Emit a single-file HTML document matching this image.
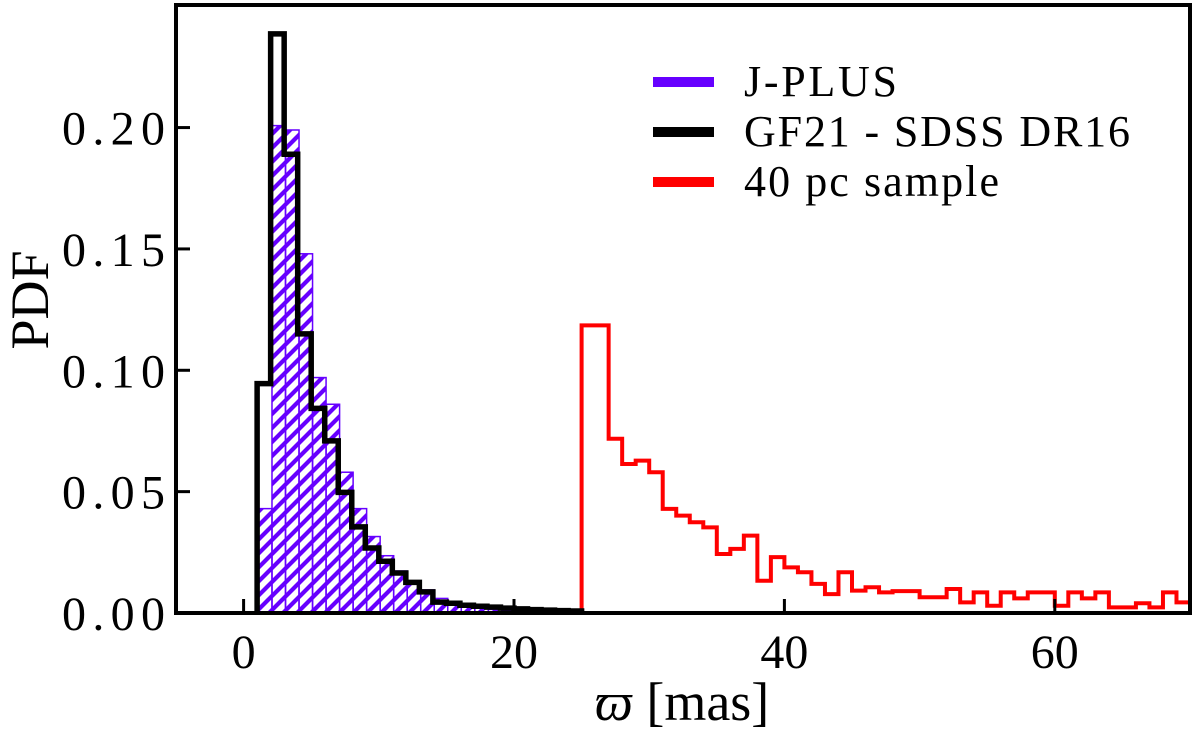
<!DOCTYPE html>
<html><head><meta charset="utf-8"><style>
html,body{margin:0;padding:0;background:#fff;}
svg{display:block;font-family:"Liberation Serif",serif;}
</style></head><body>
<svg id="chart" width="1200" height="738" viewBox="0 0 1200 738">
<defs>
<pattern id="hatch" patternUnits="userSpaceOnUse" width="14" height="14">
<path d="M-3,3 L3,-3 M0,14 L14,0 M11,17 L17,11" stroke="#6600ff" stroke-width="4.2"/>
</pattern>
<clipPath id="plotclip"><rect x="176" y="5" width="1014" height="608"/></clipPath>
</defs>
<g id="marks" clip-path="url(#plotclip)"></g>
<g id="axes"></g>
<g>
<line x1="653" y1="82" x2="714" y2="82" stroke="#6600ff" stroke-width="10"/>
<text x="744" y="96" font-size="44" textLength="153">J-PLUS</text>
<line x1="653" y1="132" x2="714" y2="132" stroke="#000" stroke-width="10"/>
<text x="744" y="146" font-size="44" textLength="386">GF21 - SDSS DR16</text>
<line x1="653" y1="182" x2="714" y2="182" stroke="#ff0000" stroke-width="10"/>
<text x="744" y="196" font-size="44" textLength="255">40 pc sample</text>
</g>
<text x="48" y="300" font-size="54" text-anchor="middle" transform="rotate(-90 48 300)">PDF</text>
<text x="682" y="720" font-size="54" text-anchor="middle"><tspan font-style="italic">ϖ</tspan> [mas]</text>
</svg>
<script>
const jplusStart = 1.1;
const jplusValues = [0.043,0.2008,0.199,0.148,0.097,0.086,0.058,0.043,0.0315,0.0236,0.0173,0.0127,0.0095,0.006,0.004,0.003,0.002,0.0015,0.001,0.0007];
const gf21Start = 1.0;
const gf21Values = [0.0945,0.2386,0.189,0.115,0.0843,0.0709,0.0497,0.0355,0.0268,0.0213,0.0165,0.0126,0.0087,0.0045,0.004,0.0032,0.0028,0.0024,0.002,0.0017,0.0014,0.0012,0.001,0.0008];
const pcStart = 25;
const pcValues = [0.1185,0.1185,0.0718,0.0614,0.0628,0.058,0.0429,0.0401,0.0374,0.0353,0.0243,0.0264,0.0319,0.0133,0.023,0.0188,0.0168,0.012,0.0078,0.0168,0.0092,0.0106,0.0085,0.009,0.009,0.0065,0.0065,0.0099,0.0044,0.0085,0.003,0.0085,0.006,0.0085,0.0085,0.003,0.0085,0.006,0.0085,0.0023,0.0023,0.004,0.0023,0.0085,0.0044,0.0023,0.0023];
const binWidth = 1;
const xTicks = [0,20,40,60];
const yTicks = [0,0.05,0.10,0.15,0.20];
const yTickLabels = ["0.00","0.05","0.10","0.15","0.20"];

const X0=176, X1=1190, Y0=613, Y1=5;
const xMin=-5, xMax=70, yMin=0, yMax=0.2505;
function xs(v){return X0+(v-xMin)/(xMax-xMin)*(X1-X0);}
function ys(v){return Y0-(v-yMin)/(yMax-yMin)*(Y0-Y1);}
const NS="http://www.w3.org/2000/svg";
const marks=document.getElementById('marks');
const axes=document.getElementById('axes');

jplusValues.forEach((v,i)=>{
  const r=document.createElementNS(NS,'rect');
  const a=jplusStart+i*binWidth;
  r.setAttribute('x',xs(a));r.setAttribute('width',xs(a+binWidth)-xs(a));
  r.setAttribute('y',ys(v));r.setAttribute('height',ys(0)-ys(v));
  r.setAttribute('fill','url(#hatch)');r.setAttribute('stroke','#6600ff');r.setAttribute('stroke-width','1.5');
  
  
  marks.appendChild(r);
});
function stepPath(start,vals){
  let d='M'+xs(start)+','+ys(0);
  vals.forEach((v,i)=>{const a=start+i*binWidth;d+=' L'+xs(a)+','+ys(v)+' L'+xs(a+binWidth)+','+ys(v);});
  d+=' L'+xs(start+vals.length*binWidth)+','+ys(0);
  return d;
}
const pc=document.createElementNS(NS,'path');
pc.setAttribute('d',stepPath(pcStart,pcValues));
pc.setAttribute('fill','none');pc.setAttribute('stroke','#ff0000');pc.setAttribute('stroke-width','4');


marks.appendChild(pc);
const gf=document.createElementNS(NS,'path');
gf.setAttribute('d',stepPath(gf21Start,gf21Values));
gf.setAttribute('fill','none');gf.setAttribute('stroke','#000');gf.setAttribute('stroke-width','5.5');


marks.appendChild(gf);

xTicks.forEach(t=>{
  const l=document.createElementNS(NS,'line');
  l.setAttribute('x1',xs(t));l.setAttribute('x2',xs(t));l.setAttribute('y1',Y0);l.setAttribute('y2',Y0-14);
  l.setAttribute('stroke','#000');l.setAttribute('stroke-width','3');
  
  
  axes.appendChild(l);
  const tx=document.createElementNS(NS,'text');
  tx.setAttribute('x',xs(t));tx.setAttribute('y',668);tx.setAttribute('font-size','48');tx.setAttribute('text-anchor','middle');
  tx.textContent=String(t);
  
  
  axes.appendChild(tx);
});
yTicks.forEach((t,i)=>{
  const l=document.createElementNS(NS,'line');
  l.setAttribute('x1',X0);l.setAttribute('x2',X0+14);l.setAttribute('y1',ys(t));l.setAttribute('y2',ys(t));
  l.setAttribute('stroke','#000');l.setAttribute('stroke-width','3');
  
  
  axes.appendChild(l);
  const tx=document.createElementNS(NS,'text');
  tx.setAttribute('x',165);tx.setAttribute('y',ys(t)+17);tx.setAttribute('font-size','48');tx.setAttribute('text-anchor','end');
  tx.setAttribute('textLength','103');
  tx.textContent=yTickLabels[i];
  
  
  axes.appendChild(tx);
});
const fr=document.createElementNS(NS,'rect');
fr.setAttribute('x',X0);fr.setAttribute('y',Y1);fr.setAttribute('width',X1-X0);fr.setAttribute('height',Y0-Y1);
fr.setAttribute('fill','none');fr.setAttribute('stroke','#000');fr.setAttribute('stroke-width','4');


axes.appendChild(fr);
</script>
</body></html>
